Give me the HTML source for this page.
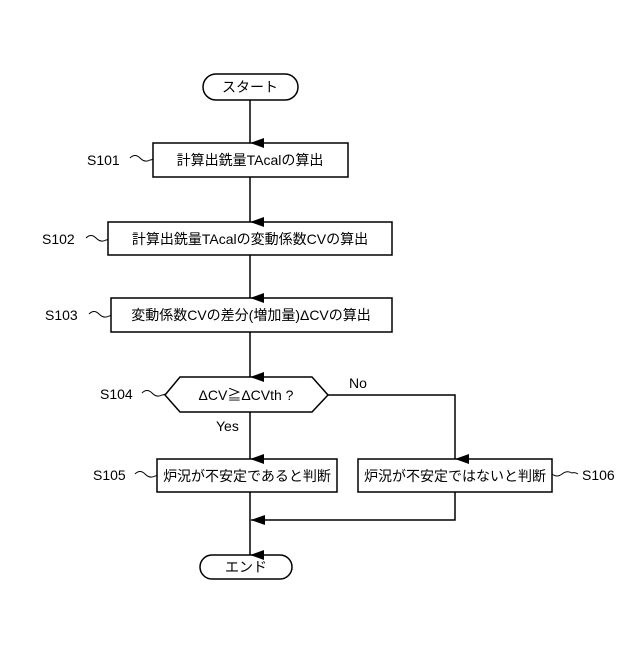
<!DOCTYPE html>
<html><head><meta charset="utf-8"><style>
body{margin:0;background:#fff}
svg text{font-family:"Liberation Sans","Noto Sans CJK JP",sans-serif;font-size:14px;fill:#000}
</style></head><body>
<svg width="640" height="640" viewBox="0 0 640 640" xmlns="http://www.w3.org/2000/svg">
<defs><marker id="a" markerWidth="10" markerHeight="14" refX="5" refY="14" orient="auto-start-reverse" markerUnits="userSpaceOnUse"><path d="M0,0 L10,0 L5,14 Z" fill="#000"/></marker>
<marker id="l" markerWidth="14" markerHeight="10" refX="0" refY="5" markerUnits="userSpaceOnUse"><path d="M14,0 L14,10 L0,5 Z" fill="#000"/></marker></defs>
<g fill="none" stroke="#000" stroke-width="1.5">
<rect x="203" y="74" width="95" height="26" rx="13"/>
<rect x="153" y="143" width="195" height="34"/>
<rect x="108" y="222" width="284" height="33"/>
<rect x="111" y="298" width="281" height="34"/>
<path d="M165,395 L180,377 L312,377 L328,395 L312,412 L180,412 Z"/>
<rect x="157" y="459" width="180" height="33"/>
<rect x="358" y="459" width="194" height="33"/>
<rect x="200" y="555" width="92" height="24" rx="12"/>
<line x1="250" y1="100" x2="250" y2="143" marker-end="url(#a)"/>
<line x1="250" y1="177" x2="250" y2="222" marker-end="url(#a)"/>
<line x1="250" y1="255" x2="250" y2="298" marker-end="url(#a)"/>
<line x1="250" y1="332" x2="250" y2="377" marker-end="url(#a)"/>
<line x1="250" y1="412" x2="250" y2="459" marker-end="url(#a)"/>
<polyline points="328,395 455,395 455,459" marker-end="url(#a)"/>
<line x1="250" y1="492" x2="250" y2="555" marker-end="url(#a)"/>
<polyline points="455,492 455,520 251,520" marker-end="url(#l)"/>
<g stroke-width="1">
<path d="M130,158 q5,-5 10,0 t10,2 q2,0 3,-1"/>
<path d="M86,238 q5,-5 10,0 t10,2 q2,0 2,-1"/>
<path d="M89,314 q5,-5 10,0 t10,2 q2,0 2,-1"/>
<path d="M142,393 q5,-5 10,0 t10,2 q2,0 3,-1"/>
<path d="M135,474 q5,-5 10,0 t10,2 q2,0 2,-1"/>
<path d="M552,474 q5,4 10,0 t10,-1 q3,-1 6,1"/>
</g></g>
<g text-anchor="middle">
<text x="250" y="92">スタート</text>
<text x="250" y="165">計算出銑量TAcalの算出</text>
<text x="250" y="244">計算出銑量TAcalの変動係数CVの算出</text>
<text x="251" y="320">変動係数CVの差分(増加量)ΔCVの算出</text>
<text x="246" y="400">ΔCV≧ΔCVth ?</text>
<text x="247" y="481">炉況が不安定であると判断</text>
<text x="455" y="481">炉況が不安定ではないと判断</text>
<text x="246" y="572">エンド</text>
</g>
<text x="87" y="165">S101</text>
<text x="42" y="244">S102</text>
<text x="45" y="320">S103</text>
<text x="100" y="399">S104</text>
<text x="93" y="480">S105</text>
<text x="582" y="480">S106</text>
<text x="349" y="388">No</text>
<text x="216" y="431">Yes</text>
</svg>
</body></html>
